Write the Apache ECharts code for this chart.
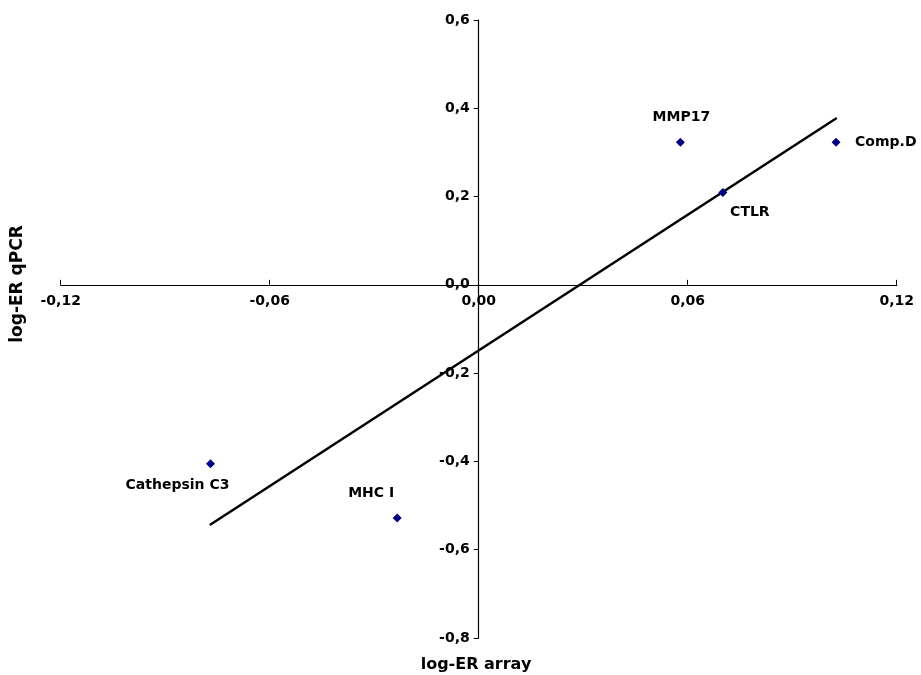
<!DOCTYPE html>
<html>
<head>
<meta charset="utf-8">
<script src="https://cdn.jsdelivr.net/npm/echarts@6/dist/echarts.min.js"></script>
<style>html,body{margin:0;padding:0;background:#fff;}#c{width:921px;height:675px;}</style>
</head>
<body>
<div id="c"></div>
<script>
// Data
var geneNames = ['MMP17', 'Comp.D', 'CTLR', 'Cathepsin C3', 'MHC I'];
var logErArray = [0.0579, 0.1026, 0.0701, -0.0770, -0.0234];
var logErQpcr = [0.323, 0.323, 0.209, -0.405, -0.528];
var trendX = [-0.0772, 0.1028];
var trendY = [-0.544, 0.378];
var xTicks = { min: -0.12, max: 0.12, step: 0.06 };
var yTicks = { min: -0.8, max: 0.6, step: 0.2 };
var xTitle = 'log-ER array';
var yTitle = 'log-ER qPCR';

// Label placement (styling, kept apart from data)
var labelPlacement = {
  'MMP17': { offset: [1, -25], align: 'center' },
  'Comp.D': { offset: [19, 0], align: 'left' },
  'CTLR': { offset: [27, 20], align: 'center' },
  'Cathepsin C3': { offset: [-33, 22], align: 'center' },
  'MHC I': { offset: [-26, -25], align: 'center' }
};

var FONT = '"DejaVu Sans", "Liberation Sans", Arial, sans-serif';
var GRID = { left: 60.7, right: 24.3, top: 20, bottom: 37 };
var W = 921, H = 675;
var plotW = W - GRID.left - GRID.right;
var plotH = H - GRID.top - GRID.bottom;
// shift axes so they cross at zero (axis offset computed from the scale)
var xAxisOffset = -plotH * (0 - yTicks.min) / (yTicks.max - yTicks.min);
var yAxisOffset = -plotW * (0 - xTicks.min) / (xTicks.max - xTicks.min);

var scatterData = geneNames.map(function (n, i) {
  var p = labelPlacement[n];
  return {
    name: n,
    value: [logErArray[i], logErQpcr[i]],
    label: { offset: p.offset, align: p.align }
  };
});
var trendData = trendX.map(function (x, i) { return [x, trendY[i]]; });

var chart = echarts.init(document.getElementById('c'), null, { renderer: 'canvas' });
chart.setOption({
  backgroundColor: '#ffffff',
  animation: false,
  grid: { left: GRID.left, right: GRID.right, top: GRID.top, bottom: GRID.bottom, containLabel: false },
  xAxis: {
    type: 'value', position: 'bottom', offset: xAxisOffset,
    min: xTicks.min, max: xTicks.max, interval: xTicks.step,
    splitLine: { show: false },
    axisLine: { onZero: false, lineStyle: { color: '#000', width: 1.2 } },
    axisTick: { inside: true, length: 5, lineStyle: { color: '#000', width: 1 } },
    axisLabel: {
      color: '#000', fontFamily: FONT, fontWeight: 'bold', fontSize: 14, margin: 10,
      formatter: function (v) { return v.toFixed(2).replace('.', ','); }
    }
  },
  yAxis: {
    type: 'value', position: 'left', offset: yAxisOffset,
    min: yTicks.min, max: yTicks.max, interval: yTicks.step,
    splitLine: { show: false },
    axisLine: { onZero: false, lineStyle: { color: '#000', width: 1.2 } },
    axisTick: { inside: false, length: 5, lineStyle: { color: '#000', width: 1 } },
    axisLabel: {
      color: '#000', fontFamily: FONT, fontWeight: 'bold', fontSize: 14, margin: 9,
      formatter: function (v) { return v.toFixed(1).replace('.', ','); }
    }
  },
  graphic: [
    { type: 'text', x: 476, y: 665,
      style: { text: xTitle, font: 'bold 16px ' + FONT, fill: '#000', align: 'center', verticalAlign: 'middle' } },
    { type: 'text', x: 18, y: 284, rotation: Math.PI / 2,
      style: { text: yTitle, font: 'bold 17px ' + FONT, fill: '#000', align: 'center', verticalAlign: 'middle' } }
  ],
  series: [
    {
      type: 'line',
      data: trendData,
      symbol: 'none',
      lineStyle: { color: '#000', width: 2.5 },
      z: 2,
      silent: true
    },
    {
      type: 'scatter',
      data: scatterData,
      symbol: 'diamond',
      symbolSize: 9,
      itemStyle: { color: '#000080', opacity: 1 },
      z: 3,
      label: {
        show: true, position: ['50%', '50%'], verticalAlign: 'middle',
        color: '#000', fontFamily: FONT, fontWeight: 'bold', fontSize: 14,
        formatter: function (p) { return p.name; }
      }
    }
  ]
});
</script>
</body>
</html>
